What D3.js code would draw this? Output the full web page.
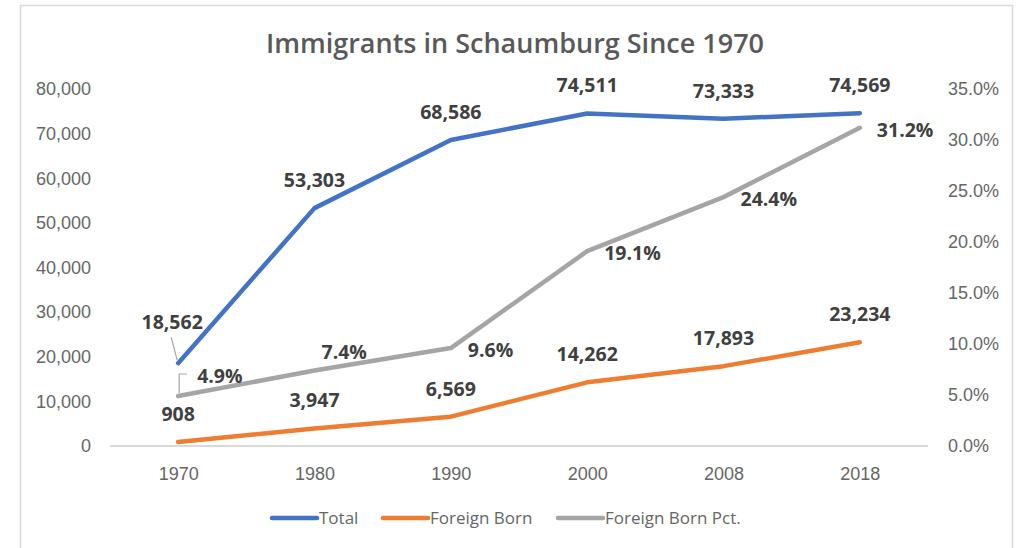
<!DOCTYPE html>
<html>
<head>
<meta charset="utf-8">
<script src="https://cdn.jsdelivr.net/npm/d3@7"></script>
<style>
  body { margin: 0; background: #fff; }
  svg { font-family: "Open Sans", sans-serif; }
  .axis text { fill: #666; font-size: 18px; }
  .axis path, .axis line { display: none; }
</style>
</head>
<body>
<div id="chart-area"></div>
<script>
// Data
var years = ["1970", "1980", "1990", "2000", "2008", "2018"];
var total = [18562, 53303, 68586, 74511, 73333, 74569];
var foreignBorn = [908, 3947, 6569, 14262, 17893, 23234];
var foreignPct = [0.049, 0.074, 0.096, 0.191, 0.244, 0.312];
var leftTicks = [0, 10000, 20000, 30000, 40000, 50000, 60000, 70000, 80000];
var rightTicks = [0, 0.05, 0.10, 0.15, 0.20, 0.25, 0.30, 0.35];
var seriesNames = ["Total", "Foreign Born", "Foreign Born Pct."];

var W = 1017, H = 548;
var plot = { left: 110, right: 928, top: 89, bottom: 446 };

var svg = d3.select("#chart-area").append("svg")
    .attr("width", W)
    .attr("height", H);

// chart border
svg.append("rect")
    .attr("x", 20.5).attr("y", 5.5)
    .attr("width", 992).attr("height", 560)
    .attr("fill", "none")
    .attr("stroke", "#d9d9d9")
    .attr("stroke-width", 1.5);

// Title
svg.append("text")
    .attr("x", 515).attr("y", 53)
    .attr("text-anchor", "middle")
    .attr("fill", "#595959")
    .attr("font-size", "27px")
    .attr("font-weight", 600)
    .text("Immigrants in Schaumburg Since 1970");

// Scales
var x = d3.scalePoint().domain(years).range([plot.left, plot.right]).padding(0.5);
var yL = d3.scaleLinear().domain([0, 80000]).range([plot.bottom, plot.top]);
var yR = d3.scaleLinear().domain([0, 0.35]).range([plot.bottom, plot.top]);

// Axes
svg.append("g")
    .attr("class", "axis")
    .attr("transform", "translate(" + plot.left + ",0)")
    .call(d3.axisLeft(yL).tickValues(leftTicks).tickFormat(d3.format(",")).tickSize(0).tickPadding(19));

svg.append("g")
    .attr("class", "axis")
    .attr("transform", "translate(" + plot.right + ",0)")
    .call(d3.axisRight(yR).tickValues(rightTicks).tickFormat(d3.format(".1%")).tickSize(0).tickPadding(20));

svg.append("g")
    .attr("class", "axis")
    .attr("transform", "translate(0," + plot.bottom + ")")
    .call(d3.axisBottom(x).tickSize(0).tickPadding(21));

// baseline
svg.append("line")
    .attr("x1", plot.left).attr("x2", plot.right)
    .attr("y1", plot.bottom).attr("y2", plot.bottom)
    .attr("stroke", "#d9d9d9")
    .attr("stroke-width", 2);

var colours = ["#4472c4", "#ed7d31", "#a5a5a5"];

var series = [
    { name: seriesNames[0], values: total, y: yL, fmt: d3.format(",") },
    { name: seriesNames[1], values: foreignBorn, y: yL, fmt: d3.format(",") },
    { name: seriesNames[2], values: foreignPct, y: yR, fmt: d3.format(".1%") }
];

// lines
var line = function(s) {
    return d3.line()
        .x(function(d, i) { return x(years[i]); })
        .y(function(d) { return s.y(d); })(s.values);
};

// draw grey first, then orange, then blue on top
[2, 1, 0].forEach(function(k) {
    svg.append("path")
        .attr("d", line(series[k]))
        .attr("fill", "none")
        .attr("stroke", colours[k])
        .attr("stroke-width", 4.5)
        .attr("stroke-linejoin", "round")
        .attr("stroke-linecap", "round");
});

// leader lines for the moved 1970 labels
svg.append("line")
    .attr("x1", x("1970") - 7).attr("y1", yL(total[0]) - 26)
    .attr("x2", x("1970") - 1).attr("y2", yL(total[0]) - 3)
    .attr("stroke", "#a6a6a6").attr("stroke-width", 1.2);

svg.append("path")
    .attr("d", "M" + (x("1970") + 1) + "," + (yR(foreignPct[0]) - 3) +
        "V" + (yR(foreignPct[0]) - 22) + "h8")
    .attr("fill", "none")
    .attr("stroke", "#a6a6a6").attr("stroke-width", 1.2);

// Data labels: default placement is above (centred) for counts, right for percents
// a few were nudged by hand in the original
function labelPos(k, i) {
    var px = x(years[i]), py = series[k].y(series[k].values[i]);
    if (k === 2) {
        if (i === 0) return { x: px + 19, y: py - 13, anchor: "start" };
        if (i === 1) return { x: px + 7, y: py - 12, anchor: "start" };
        return { x: px + 17, y: py + 9, anchor: "start" };
    }
    if (k === 0 && i === 0) return { x: px - 6, y: py - 34, anchor: "middle" };
    return { x: px, y: py - 21, anchor: "middle" };
}

series.forEach(function(s, k) {
    svg.append("g").selectAll("text")
        .data(s.values)
        .enter().append("text")
        .each(function(d, i) {
            var p = labelPos(k, i);
            d3.select(this)
                .attr("x", p.x).attr("y", p.y)
                .attr("text-anchor", p.anchor);
        })
        .attr("fill", "#404040")
        .attr("font-size", "19.5px")
        .attr("font-weight", 700)
        .text(function(d) { return s.fmt(d); });
});

// Legend
var legendX = [272, 383, 558];
var legend = svg.append("g");
seriesNames.forEach(function(n, k) {
    legend.append("line")
        .attr("x1", legendX[k]).attr("x2", legendX[k] + 45)
        .attr("y1", 518).attr("y2", 518)
        .attr("stroke", colours[k])
        .attr("stroke-width", 4.5)
        .attr("stroke-linecap", "round");
    legend.append("text")
        .attr("x", legendX[k] + 47).attr("y", 524)
        .attr("fill", "#666")
        .attr("font-size", "17px")
        .text(n);
});
</script>
</body>
</html>
